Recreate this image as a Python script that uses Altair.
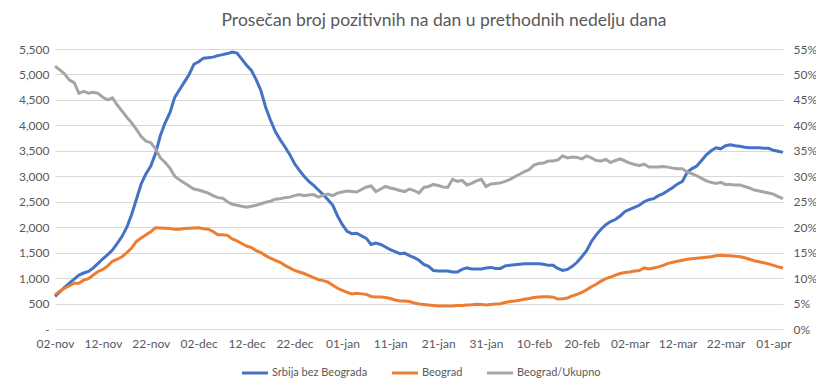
import altair as alt
import pandas as pd

months = {11: "nov", 12: "dec", 1: "jan", 2: "feb", 3: "mar", 4: "apr"}
dr = pd.date_range("2020-11-02", "2021-04-03")
dates = [f"{d.day:02d}-{months[d.month]}" for d in dr]

srbija = [
    640, 730, 820, 900, 980, 1060, 1100, 1130, 1200, 1290,
    1380, 1460, 1550, 1680, 1820, 2000, 2250, 2550, 2850, 3050,
    3200, 3450, 3800, 4050, 4250, 4550, 4700, 4850, 5000, 5200,
    5250, 5320, 5330, 5340, 5370, 5390, 5410, 5440, 5420, 5300,
    5180, 5080, 4900, 4680, 4350, 4100, 3880, 3720, 3580, 3430,
    3250, 3120, 3000, 2900, 2820, 2730, 2640, 2540, 2430, 2220,
    2050, 1920, 1870, 1880, 1830, 1780, 1660, 1690, 1660, 1610,
    1560, 1520, 1480, 1490, 1440, 1400, 1350, 1270, 1230, 1150,
    1140, 1140, 1140, 1120, 1120, 1170, 1200, 1180, 1180, 1180,
    1200, 1210, 1190, 1190, 1240, 1250, 1260, 1270, 1280, 1280,
    1280, 1280, 1270, 1250, 1250, 1190, 1150, 1170, 1230, 1310,
    1420, 1540, 1720, 1850, 1960, 2050, 2110, 2150, 2220, 2310,
    2350, 2390, 2430, 2500, 2540, 2560, 2620, 2660, 2720, 2780,
    2850, 2900, 3080, 3150, 3200, 3310, 3420, 3500, 3560, 3540,
    3600, 3620, 3600, 3590, 3570, 3560, 3560, 3560, 3550, 3550,
    3510, 3490, 3470,
]

beograd = [
    670, 740, 800, 850, 900, 900, 960, 990, 1060, 1130,
    1170, 1240, 1330, 1370, 1420, 1500, 1590, 1720, 1790, 1850,
    1910, 1990, 1985, 1980, 1975, 1960, 1960, 1975, 1980, 1985,
    1990, 1970, 1960, 1915, 1850, 1850, 1840, 1770, 1730, 1680,
    1630, 1600, 1540, 1500, 1440, 1390, 1350, 1310, 1250, 1200,
    1150, 1120, 1090, 1050, 1010, 970, 950, 920, 860, 800,
    760, 720, 690, 700, 690, 680, 640, 630, 630, 620,
    600, 570, 550, 550, 540, 510, 490, 480, 470, 460,
    450, 450, 450, 450, 460, 460, 470, 475, 485, 480,
    470, 480, 490, 495, 520, 540, 550, 565, 585, 600,
    620, 630, 635, 635, 625, 590, 595, 610, 650, 680,
    720, 770, 830, 880, 940, 990, 1020, 1060, 1090, 1110,
    1120, 1140, 1150, 1200, 1180, 1200, 1220, 1250, 1290, 1310,
    1330, 1350, 1370, 1380, 1390, 1400, 1410, 1420, 1440, 1450,
    1440, 1440, 1430, 1420, 1400, 1370, 1340, 1320, 1300, 1280,
    1250, 1220, 1200,
]

udeo = [
    51.6, 50.9, 50.1, 48.9, 48.4, 46.3, 46.7, 46.3, 46.5, 46.3,
    45.5, 45.0, 45.4, 44.0, 42.8, 41.6, 40.5, 39.2, 37.8, 36.9,
    36.6, 35.4, 33.6, 32.7, 31.6, 30.0, 29.3, 28.7, 28.1, 27.5,
    27.3, 27.0, 26.7, 26.2, 25.8, 25.7, 25.0, 24.5, 24.3, 24.1,
    23.9, 24.1, 24.3, 24.6, 24.9, 25.1, 25.5, 25.6, 25.8, 25.9,
    26.2, 26.4, 26.2, 26.3, 26.4, 25.9, 26.3, 26.5, 26.2, 26.7,
    26.9, 27.1, 27.0, 26.9, 27.4, 27.9, 28.1, 27.0, 27.5, 28.0,
    27.7, 27.5, 27.2, 27.0, 27.5, 27.2, 26.7, 27.8, 28.0, 28.4,
    28.2, 27.9, 27.8, 29.4, 29.0, 29.2, 28.3, 28.6, 29.1, 29.4,
    28.0, 28.5, 28.6, 28.7, 29.0, 29.4, 29.9, 30.4, 30.9, 31.3,
    32.2, 32.5, 32.6, 33.0, 33.0, 33.2, 34.0, 33.6, 33.8, 33.7,
    33.4, 34.0, 33.6, 33.1, 33.0, 33.3, 32.7, 33.1, 33.4, 33.0,
    32.6, 32.3, 32.1, 32.4, 31.8, 31.8, 31.8, 31.9, 31.8, 31.6,
    31.5, 31.5, 30.8, 30.5, 30.1, 29.6, 29.1, 28.8, 28.6, 28.8,
    28.4, 28.4, 28.3, 28.3, 28.0, 27.7, 27.3, 27.1, 26.9, 26.7,
    26.5, 26.0, 25.6,
]

names = ["Srbija bez Beograda", "Beograd", "Beograd/Ukupno"]
colors = ["#4472C4", "#ED7D31", "#A5A5A5"]
left_ticks = list(range(0, 5501, 500))
right_ticks = list(range(0, 56, 5))

n = len(dates)
df_left = pd.DataFrame({
    "datum": dates * 2,
    "idx": list(range(n)) * 2,
    "vrednost": srbija + beograd,
    "serija": [names[0]] * n + [names[1]] * n,
})
df_right = pd.DataFrame({
    "datum": dates,
    "idx": list(range(n)),
    "procenat": udeo,
    "serija": [names[2]] * n,
})

FONT = "Lato"
TXT = "#595959"

x_enc = alt.X(
    "datum:O",
    sort=dates,
    scale=alt.Scale(type="point", padding=0),
    axis=alt.Axis(values=dates[::10], labelAngle=0, title=None, grid=False,
                  labelPadding=9, labelFontSize=12),
)
color_enc = alt.Color(
    "serija:N",
    scale=alt.Scale(domain=names, range=colors),
    legend=alt.Legend(
        title=None, orient="none", legendX=185, legendY=309,
        direction="horizontal", symbolType="stroke", symbolSize=680,
        symbolStrokeWidth=3, labelFontSize=11, labelColor=TXT, labelFont=FONT,
        columnPadding=17, labelOffset=2,
    ),
)

left = alt.Chart(df_left).mark_line(strokeWidth=3).encode(
    x=x_enc,
    y=alt.Y("vrednost:Q", scale=alt.Scale(domain=[0, 5500]),
            axis=alt.Axis(values=left_ticks, title=None, grid=True,
                          labelExpr="datum.value == 0 ? '-\\u2003\\u2003' : format(datum.value, ',')",
                          labelPadding=6, labelFontSize=12)),
    color=color_enc,
    order=alt.Order("idx:Q"),
)

right = alt.Chart(df_right).mark_line(strokeWidth=3).encode(
    x=x_enc,
    y=alt.Y("procenat:Q", scale=alt.Scale(domain=[0, 55]),
            axis=alt.Axis(orient="right", values=right_ticks, title=None, grid=False,
                          labelExpr="datum.value + '%'", labelPadding=10,
                          labelFontSize=12)),
    color=color_enc,
    order=alt.Order("idx:Q"),
)

chart = alt.layer(left, right).resolve_scale(y="independent").properties(
    width=728,
    height=280,
    autosize="none",
    padding={"left": 47, "top": 41, "right": 33, "bottom": 54},
    title=alt.TitleParams(
        "Prosečan broj pozitivnih na dan u prethodnih nedelju dana",
        fontSize=17.5, font=FONT, color=TXT, fontWeight="normal",
        anchor="middle", dx=25, offset=14,
    ),
).configure_view(stroke=None).configure_axis(
    domain=False, ticks=False, labelColor=TXT, labelFont=FONT,
    gridColor="#D9D9D9", gridWidth=1,
)

chart.save("out.html", embed_options={"renderer": "svg", "actions": False})
